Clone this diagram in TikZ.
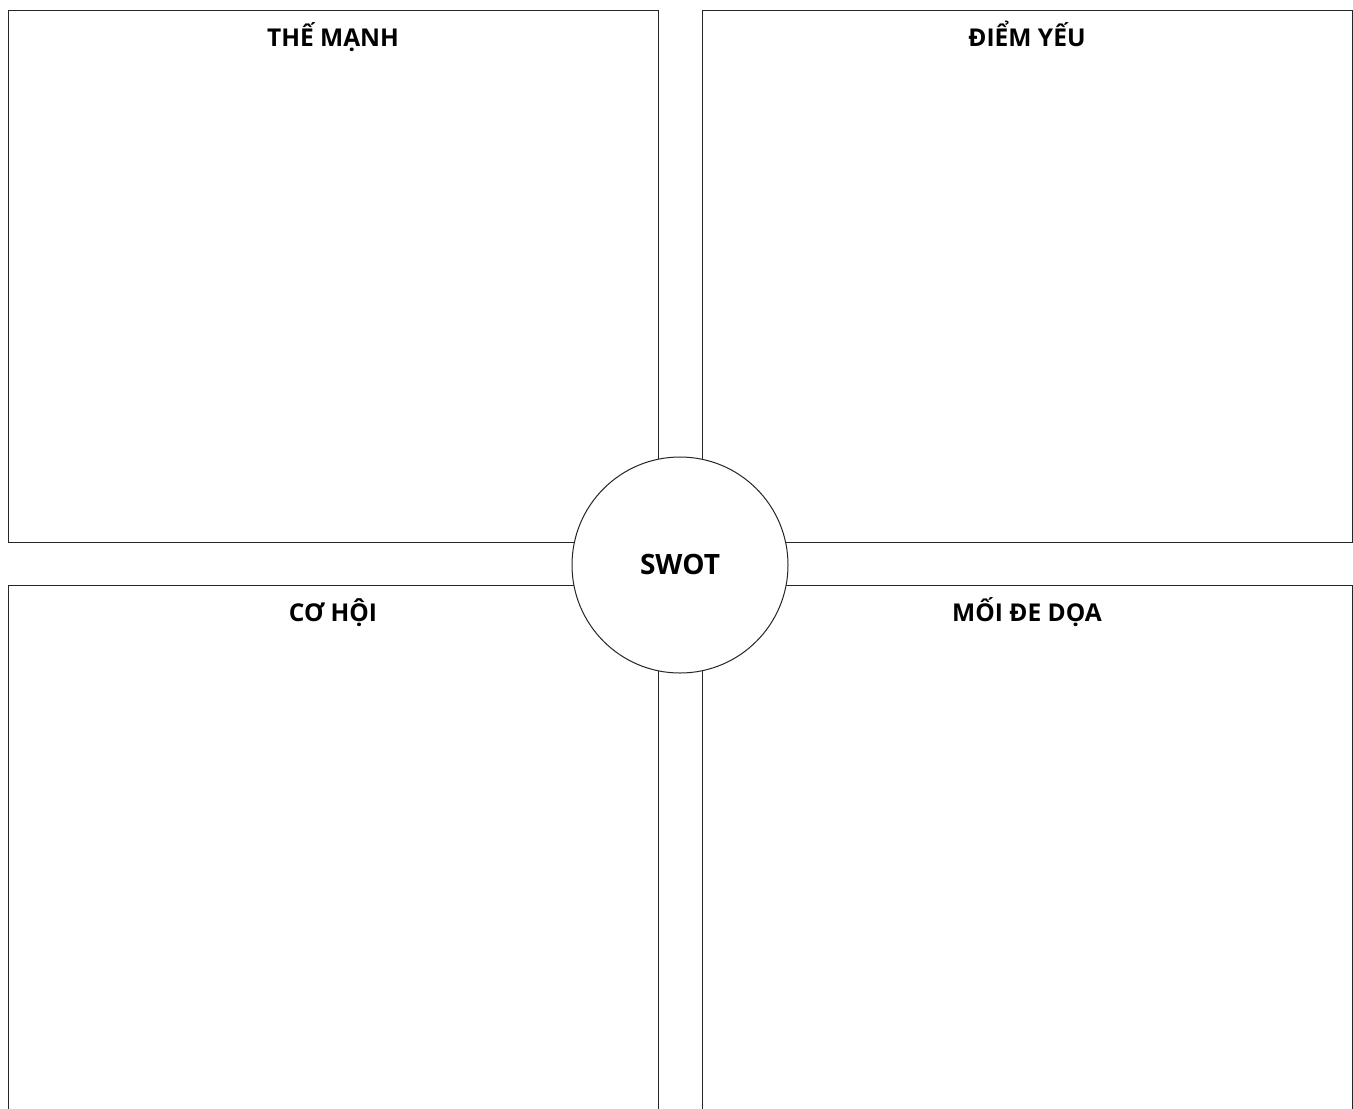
\documentclass[tikz,border=0pt]{standalone}
\usepackage{fontspec}
\setmainfont{Open Sans}
\begin{document}
\begin{tikzpicture}[x=0.75pt,y=-0.75pt,
  panel/.style={draw=black!85,line width=0.75pt,fill=white,inner sep=0pt},
  title/.style={font=\bfseries\fontsize{18.4pt}{22pt}\selectfont,text=black,inner sep=0pt,anchor=base},
  hub/.style={circle,draw=black!85,line width=0.75pt,fill=white,minimum size=162pt,inner sep=0pt},
  hubtext/.style={font=\bfseries\fontsize{21pt}{25pt}\selectfont,text=black,inner sep=0pt,anchor=base}]
\clip (0,0) rectangle (1353,1108);
\fill[white] (0,0) rectangle (1353,1108);
\draw[panel] (8,10) rectangle (658,542);
\draw[panel] (702,10) rectangle (1352,542);
\draw[panel] (8,585) rectangle (658,1130);
\draw[panel] (702,585) rectangle (1352,1130);
\node[title] (ts) at (333,46) {THẾ MẠNH};
\node[title] (tw) at (1027,46) {ĐIỂM YẾU};
\node[title] (to) at (333,621) {CƠ HỘI};
\node[title] (tt) at (1027,621) {MỐI ĐE DỌA};
\node[hub] (swot) at (680,565) {};
\node[hubtext] (swott) at (680,574) {SWOT};
\end{tikzpicture}
\end{document}
